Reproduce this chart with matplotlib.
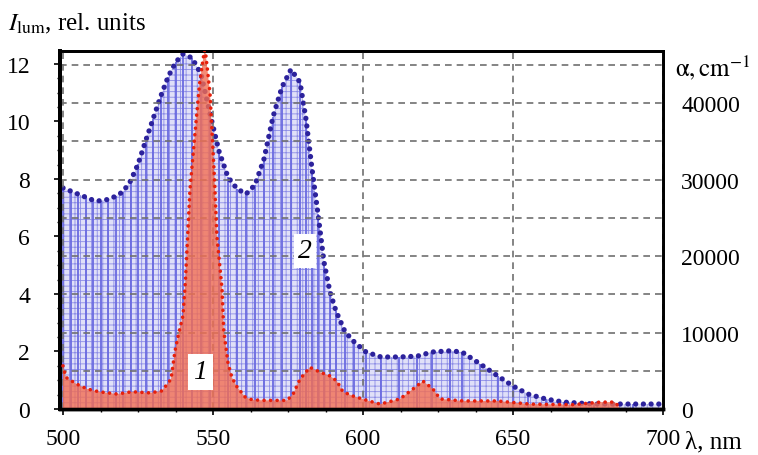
import matplotlib
matplotlib.use('Agg')
import matplotlib.pyplot as plt
from matplotlib.ticker import MultipleLocator

plt.rcParams['font.family'] = ['Liberation Serif', 'DejaVu Serif']
plt.rcParams['mathtext.fontset'] = 'stix'
plt.rcParams['hatch.linewidth'] = 0.6

# curve 1 - luminescence, rel. units (left axis)
wl_lum = [500, 501, 504.5, 508, 512, 518, 523, 529, 533, 536, 537.3, 538.5,
          540, 540.8, 542.3, 544, 545.5, 547.3, 549, 550.5, 551.3, 553, 553.6,
          555, 556.3, 558, 560.7, 563, 566.7, 574.7, 576.7, 579, 582.3, 585.7,
          589, 591.3, 593.3, 596.7, 601.3, 605.7, 612.3, 616.7, 620, 623.3,
          625.7, 633.3, 644.7, 655.7, 670, 679, 684, 685.5]
lum = [1.5, 1.1, 0.87, 0.7, 0.6, 0.52, 0.6, 0.56, 0.63, 1.04, 2.0, 2.6,
       3.25, 4.45, 7.6, 9.6, 11.3, 12.6, 11.0, 8.0, 6.0, 4.2, 2.7,
       1.6, 1.1, 0.77, 0.42, 0.32, 0.3, 0.3, 0.52, 1.04, 1.45, 1.28,
       1.15, 0.97, 0.6, 0.45, 0.3, 0.17, 0.35, 0.7, 0.97, 0.7,
       0.35, 0.28, 0.28, 0.17, 0.15, 0.24, 0.24, 0.05]

# curve 2 - absorption coefficient, cm^-1 (right axis)
wl_abs = [500, 502.5, 505, 507.5, 510, 512.5, 515, 517.5, 520, 522.5, 525,
          527.5, 530, 532.5, 535, 537.5, 540, 543, 546, 549, 552, 555, 558,
          561, 564, 567, 570, 573, 576, 579, 581, 583, 585, 587, 589, 591,
          594, 597, 601, 606, 612, 618, 623, 629, 633, 639, 645, 650, 655,
          661, 667, 677, 690, 700]
alpha = [28900, 28500, 28100, 27700, 27300, 27200, 27400, 27800, 28400, 29800, 32000,
         35000, 37900, 40800, 43400, 45300, 46400, 45900, 43800, 38600, 33700, 30300, 28800,
         28100, 29300, 32700, 38200, 42100, 44400, 42700, 37900, 31400, 25500, 19200, 15300, 12800,
         10100, 8800, 7450, 6800, 6800, 6900, 7450, 7600, 7450, 5900, 4300, 3000, 1950,
         1300, 900, 650, 650, 650]

x_ticks = [500, 550, 600, 650, 700]
lum_ticks = [0, 2, 4, 6, 8, 10, 12]
alpha_ticks = [0, 10000, 20000, 30000, 40000]

fig = plt.figure(figsize=(7.58, 4.56), dpi=100)
ax = fig.add_axes([60/758, 1-410/456, 603/758, 358/456])
ax2 = ax.twinx()
ax.set_zorder(ax2.get_zorder() + 1)
ax.patch.set_visible(False)

# absorption: dotted texture + stems + dotted outline
ax2.fill_between(wl_abs, 0, alpha, facecolor='#e0e0f8', edgecolor='#8c8ce6',
                 hatch='+++', lw=0, zorder=1)
ax2.vlines(wl_abs, 0, alpha, color='#6a6ae0', lw=1.3, zorder=2)
ax2.plot(wl_abs, alpha, color='#2c229c', lw=3.8, ls=(0, (0.01, 1.45)),
         dash_capstyle='round', zorder=4)

# luminescence
ax.fill_between(wl_lum, 0, lum, facecolor='#f36e52', alpha=0.8, lw=0, zorder=2)
ax.plot(wl_lum, lum, color='#e6200c', lw=2.6, ls=(0, (0.01, 1.8)),
        dash_capstyle='round', zorder=3)

ax.set_xlim(499, 700)
ax.set_ylim(0, 12.45)
ax2.set_ylim(0, 46800)

# grid
for v in x_ticks:
    ax2.axvline(v, color='#707070', lw=1.2, ls=(0, (4, 3)), zorder=5)
for h in range(5000, 46000, 5000):
    ax2.axhline(h, color='#707070', lw=1.2, ls=(0, (4, 3)), zorder=5)

ax.set_xticks(x_ticks)
ax.xaxis.set_minor_locator(MultipleLocator(12.5))
ax.set_yticks(lum_ticks)
ax.yaxis.set_minor_locator(MultipleLocator(0.5))
ax2.set_yticks(alpha_ticks)

ax.tick_params(axis='both', which='major', labelsize=17, length=4.5, width=1.2,
               direction='out')
ax.tick_params(axis='y', which='major', pad=17)
ax.tick_params(axis='x', which='major', pad=9)
ax.tick_params(axis='both', which='minor', length=2.5, width=1, direction='out')
ax2.tick_params(axis='y', which='major', labelsize=17, length=0, pad=13)

for a in (ax, ax2):
    a.spines['left'].set_linewidth(2.8)
    a.spines['bottom'].set_linewidth(2.5)
    a.spines['top'].set_linewidth(2.0)
    a.spines['right'].set_linewidth(2.0)

# labels
fig.text(8/758, 1-24/456, r'$I_{\mathrm{lum}}$, rel. units', fontsize=18,
         va='center', ha='left')
ax.text(1.02, 0.955, r'$\mathrm{\alpha, cm}^{-1}$', transform=ax.transAxes,
        fontsize=18, va='center', ha='left')
ax.text(1.036, -0.09, 'λ, nm', transform=ax.transAxes, fontsize=18,
        va='center', ha='left')

ax.text(545.7, 1.3, '1', fontsize=20, style='italic', ha='center', va='center',
        zorder=10, bbox=dict(facecolor='white', edgecolor='none', pad=4))
ax.text(580.7, 5.5, '2', fontsize=20, style='italic', ha='center', va='center',
        zorder=10, bbox=dict(facecolor='white', edgecolor='none', pad=3))

fig.savefig('out.png', dpi=100)
